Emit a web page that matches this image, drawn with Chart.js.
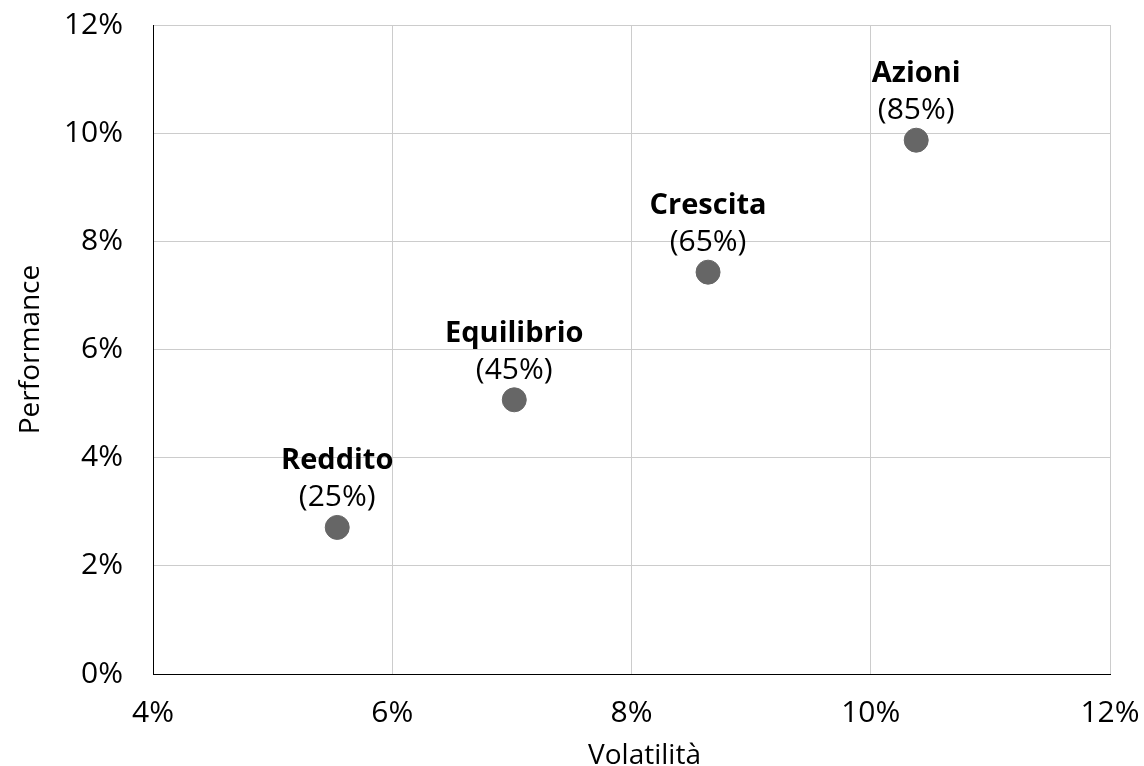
<!DOCTYPE html>
<html>
<head>
<meta charset="utf-8">
<script src="https://cdn.jsdelivr.net/npm/chart.js@4"></script>
<style>
  html, body { margin: 0; padding: 0; background: #fff; }
  #wrap { width: 1144px; height: 766px; }
</style>
</head>
<body>
<div id="wrap"><canvas id="myChart" width="1144" height="766"></canvas></div>
<script>
// data block
const names = ['Reddito', 'Equilibrio', 'Crescita', 'Azioni'];
const shares = ['(25%)', '(45%)', '(65%)', '(85%)'];
const volatility = [5.54, 7.02, 8.64, 10.38];
const performance = [2.71, 5.07, 7.43, 9.87];
const xTicks = [4, 6, 8, 10, 12];
const yTicks = [0, 2, 4, 6, 8, 10, 12];
const xTitle = 'Volatilità';
const yTitle = 'Performance';

const FONT = "'Open Sans', 'Noto Sans', sans-serif";

let points = volatility.map(function(v, i){
    return {x: v, y: performance[i]};
});

// labels above each point + x axis title
const pointLabels = {
    id: 'pointLabels',
    afterDatasetsDraw(chart) {
        let ctx = chart.ctx;
        let meta = chart.getDatasetMeta(0);
        ctx.save();
        ctx.fillStyle = '#000';
        ctx.textAlign = 'center';
        ctx.textBaseline = 'alphabetic';
        meta.data.forEach(function(el, i){
            ctx.font = 'bold 29px ' + FONT;
            ctx.fillText(names[i], el.x, el.y - 58);
            ctx.font = '30px ' + FONT;
            ctx.fillText(shares[i], el.x, el.y - 21);
        });
        // x title sits a bit right of the plot centre in the original
        let area = chart.chartArea;
        ctx.font = '28px ' + FONT;
        ctx.fillText(xTitle, (area.left + area.right) / 2 + 13, chart.height - 2);
        ctx.restore();
    }
};

let config = {
    type: 'scatter',
    data: {
        datasets: [{
            data: points,
            backgroundColor: '#666666',
            borderColor: '#666666',
            borderWidth: 1,
            pointRadius: 12,
            pointHoverRadius: 12
        }]
    },
    options: {
        responsive: false,
        animation: false,
        layout: { padding: { top: 25, right: 34, left: 0, bottom: 0 } },
        plugins: {
            legend: { display: false },
            tooltip: { enabled: false }
        },
        scales: {
            x: {
                type: 'linear',
                min: 4,
                max: 12,
                afterBuildTicks: s => { s.ticks = xTicks.map(v => ({value: v})); },
                afterFit: s => { s.height = 92; s.paddingLeft = 0; s.paddingRight = 0; },
                grid: { color: '#cccccc', lineWidth: 1, drawTicks: false },
                border: { color: '#000000', width: 1 },
                ticks: {
                    padding: 21,
                    color: '#000',
                    font: { family: FONT, size: 30 },
                    maxRotation: 0,
                    callback: v => v + '%'
                }
            },
            y: {
                type: 'linear',
                min: 0,
                max: 12,
                afterBuildTicks: s => { s.ticks = yTicks.map(v => ({value: v})); },
                afterFit: s => { s.width = 153; s.paddingTop = 0; s.paddingBottom = 0; },
                grid: { color: '#cccccc', lineWidth: 1, drawTicks: false },
                border: { color: '#000000', width: 1 },
                ticks: {
                    padding: 30,
                    color: '#000',
                    font: { family: FONT, size: 30 },
                    callback: v => v + '%'
                },
                title: {
                    display: true,
                    text: yTitle,
                    color: '#000',
                    font: { family: FONT, size: 28 },
                    padding: { top: 14, bottom: 0 }
                }
            }
        }
    },
    plugins: [pointLabels]
};

let myChart = new Chart(document.getElementById('myChart'), config);
</script>
</body>
</html>
